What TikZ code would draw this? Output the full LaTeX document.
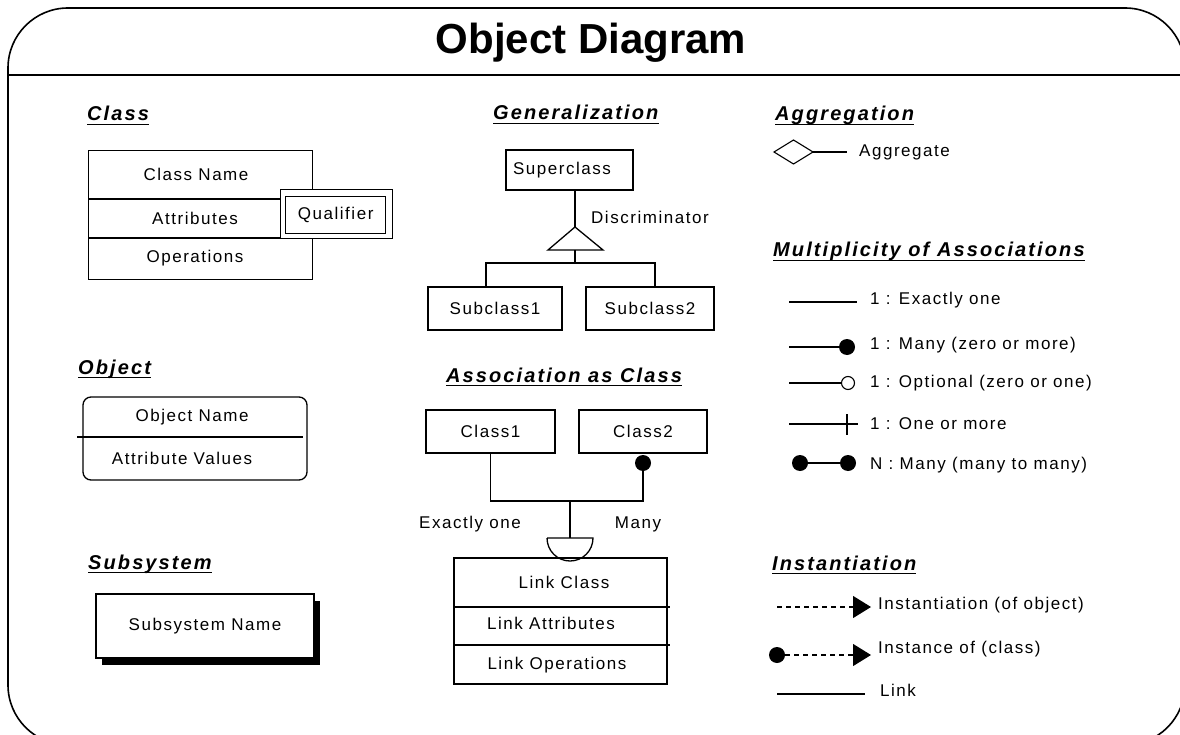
\documentclass[tikz,border=0pt]{standalone}
\usepackage{fontspec}
\newfontfamily\bodyfont{Liberation Sans}[LetterSpace=9]
\newfontfamily\headfont{Liberation Sans}[LetterSpace=10.5]
\newfontfamily\titlefont{Liberation Sans}
\usetikzlibrary{arrows.meta,shadows}

\begin{document}
\begin{tikzpicture}[x=1pt,y=-1pt,
  every node/.style={font=\bodyfont\fontsize{17}{20}\selectfont, inner sep=0pt},
  ln/.style={line width=1.3pt},
  box/.style={draw, line width=1.3pt, inner sep=0pt},
  head/.style={anchor=base west, font=\headfont\bfseries\itshape\fontsize{20}{24}\selectfont},
  lbl/.style={anchor=west},
  dot/.style={circle, fill, inner sep=0pt, minimum size=16pt},
  hollow/.style={circle, draw, line width=1.1pt, fill=white, inner sep=0pt, minimum size=13pt},
  tip/.style={-{Triangle[length=18pt,width=22pt]}},
  dashln/.style={line width=1.1pt, dash pattern=on 5pt off 4pt},
]
\useasboundingbox (0,0) rectangle (1180,735);
\clip (0,0) rectangle (1180,735);

% outer frame and title band
\draw[line width=1.6pt, rounded corners=60pt] (8,8) rectangle (1185,745);
\draw[line width=2pt] (8,75) -- (1185,75);
\node[font=\titlefont\bfseries\fontsize{42}{48}\selectfont] (title) at (591,43) {Object Diagram};

% section headings, underlined
\foreach \n/\x/\y/\t in {hclass/87/121/Class, hgen/493/120/Generalization,
    hagg/775/121/Aggregation, hmult/773/257/Multiplicity of Associations,
    hobj/78/374/Object, hassoc/446/382/Association as Class,
    hsub/88/569/Subsystem, hinst/772/570/Instantiation} {
  \node[head] (\n) at (\x,\y) {\t};
  \draw[line width=1.4pt] ([yshift=-3.5pt]\n.base west) -- ([yshift=-3.5pt]\n.base east);
}

% ---- Class ----
\node[box, anchor=north west, minimum width=224pt, minimum height=129pt] (cls) at (88,150) {};
\draw[ln] (88,199) -- (280,199);
\draw[ln] (88,238) -- (392,238);
\node (clsname) at (196,174) {Class Name};
\node (clsattr) at (195,218) {Attributes};
\node (clsops) at (195,258) {Operations};
\node[box, fill=white, anchor=north west, minimum width=112pt, minimum height=49pt] (qouter) at (280,189) {};
\node[box, anchor=north west, minimum width=100pt, minimum height=37pt] (qual) at (285,196) {};
\node at (qual.center) {Qualifier};

% ---- Generalization ----
\node[box, minimum width=127pt, minimum height=40pt] (super) at (569.5,170) {};
\node at (562,170) {Superclass};
\coordinate (apex) at (575,227);
\coordinate (tribase) at (575,250);
\draw[ln] (apex |- super.south) -- (apex);
\draw[ln] (apex) -- (603,250) -- (548,250) -- cycle;
\node[box, minimum width=134pt, minimum height=43pt] (sub1) at (495,308.5) {Subclass1};
\node[box, minimum width=128pt, minimum height=43pt] (sub2) at (650,308.5) {Subclass2};
\coordinate (bar) at (575,263);
\draw[ln] (tribase) -- (bar);
\draw[ln] ([xshift=-9pt]sub1.north) |- (bar) -| ([xshift=5pt]sub2.north);
\node[lbl] (disc) at (591,217) {Discriminator};

% ---- Aggregation ----
\coordinate (dmd) at (813,152);
\draw[line width=1.1pt] (774,152) -- (793.5,140) -- (dmd) -- (793.5,164) -- cycle;
\draw[line width=1.1pt] (dmd) -- (847,152);
\node[lbl] (aggt) at (859,152) {Aggregate};

% ---- Multiplicity of Associations ----
\draw[ln] (789,302) -- (857,302);
\node[lbl] (m1) at (870,300) {1 : Exactly one};
\node[dot] (m2d) at (847,347) {};
\draw[ln] (789,347) -- (m2d);
\node[lbl] (m2) at (870,345) {1 : Many (zero or more)};
\node[hollow] (m3o) at (848,383) {};
\draw[ln] (789,383) -- (m3o);
\node[lbl] (m3) at (870,383) {1 : Optional (zero or one)};
\draw[ln] (789,424) -- (858,424);
\draw[ln] (847,414) -- (847,435);
\node[lbl] (m4) at (870,424) {1 : One or more};
\node[dot] (m5a) at (800,463) {};
\node[dot] (m5b) at (848,463) {};
\draw[ln] (m5a) -- (m5b);
\node[lbl] (m5) at (870,465) {N : Many (many to many)};

% ---- Object ----
\node[box, rounded corners=8pt, minimum width=224pt, minimum height=83pt] (obj) at (195,438.5) {};
\draw[ln] (77,437) -- (303,437);
\node (objname) at (192,417) {Object Name};
\node (objattr) at (182,458) {Attribute Values};

% ---- Association as Class ----
\node[box, minimum width=129pt, minimum height=43pt] (c1) at (490.5,431.5) {Class1};
\node[box, minimum width=128pt, minimum height=43pt] (c2) at (643,431.5) {Class2};
\node[dot] (c2d) at (643,463) {};
\coordinate (j) at (570,501);
\draw[ln] (c1.south) |- (j) -| (c2d);
\draw[ln] (j) -- (570,538);
\draw[ln] (547,538) -- (593,538) arc[start angle=0, end angle=180, radius=23];
\node[box, minimum width=213pt, minimum height=126pt] (lc) at (560.5,621) {};
\draw[ln] (454,607) -- (670,607);
\draw[ln] (454,645) -- (670,645);
\node (lcname) at (564,582) {Link Class};
\node (lcattr) at (551,623) {Link Attributes};
\node (lcops) at (557,665) {Link Operations};
\node (exone) at (470,524) {Exactly one};
\node (many) at (638,524) {Many};

% ---- Subsystem ----
\node[box, fill=white, minimum width=218pt, minimum height=64pt,
  drop shadow={shadow xshift=6pt, shadow yshift=-7pt, fill=black, opacity=1}] (subsys) at (205,626) {Subsystem Name};

% ---- Instantiation ----
\coordinate (i1s) at (777,607);
\draw[dashln, tip] (i1s) -- (871,607);
\node[lbl] (i1) at (878,605) {Instantiation (of object)};
\node[dot] (i2d) at (777,655) {};
\draw[dashln, tip] (i2d) -- (871,655);
\node[lbl] (i2) at (878,649) {Instance of (class)};
\draw[ln] (777,694) -- (865,694);
\node[lbl] (i3) at (880,690) {Link};

\end{tikzpicture}
\end{document}
